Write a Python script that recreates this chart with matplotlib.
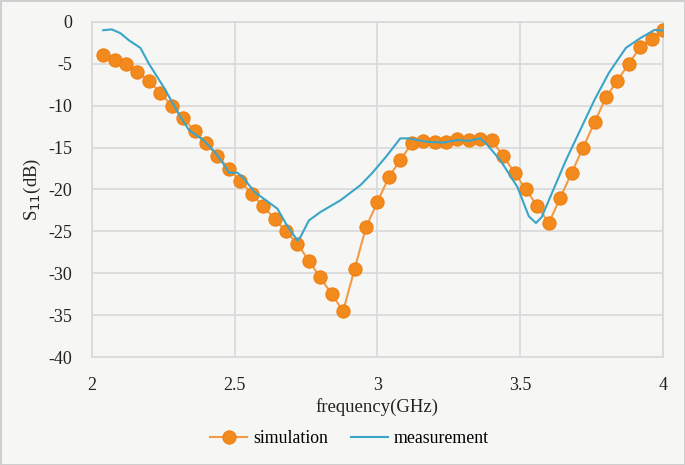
import matplotlib
matplotlib.use("Agg")
import matplotlib.pyplot as plt
import numpy as np

sim_freq = [round(2.04 + 0.04 * i, 2) for i in range(50)]
sim_s11 = [-4, -4.5, -5, -6, -7, -8.5, -10, -11.5, -13, -14.5,
           -16, -17.5, -19, -20.5, -22, -23.5, -25, -26.5, -28.5, -30.5,
           -32.5, -34.5, -29.5, -24.5, -21.5, -18.5, -16.5, -14.5, -14.2, -14.3,
           -14.3, -14, -14.1, -14, -14.1, -16, -18, -20, -22, -24,
           -21, -18, -15, -12, -9, -7, -5, -3, -2, -1]

meas_freq = [2.04, 2.07, 2.10, 2.13, 2.17, 2.20, 2.25, 2.29, 2.31, 2.34,
             2.39, 2.43, 2.46, 2.48, 2.51, 2.53, 2.57, 2.61, 2.65, 2.68,
             2.72, 2.73, 2.76, 2.80, 2.87, 2.94, 2.98, 3.03, 3.08, 3.11,
             3.17, 3.23, 3.28, 3.32, 3.36, 3.38, 3.43, 3.49, 3.53, 3.555,
             3.575, 3.61, 3.66, 3.76, 3.81, 3.87, 3.92, 3.97, 4.00]
meas_s11 = [-1.0, -0.9, -1.35, -2.2, -3.1, -5.0, -7.7, -10.1, -11.3, -12.9,
            -14.1, -15.5, -16.9, -18.0, -18.0, -18.6, -20.3, -21.3, -22.3, -24.1,
            -26.1, -25.7, -23.7, -22.7, -21.3, -19.5, -18.1, -16.1, -13.9, -13.9,
            -14.3, -14.4, -14.1, -14.2, -13.9, -14.5, -16.5, -19.7, -23.2, -24.0,
            -23.3, -20.5, -16.5, -9.3, -6.1, -3.1, -1.95, -0.96, -1.04]

x_ticks = [2, 2.5, 3, 3.5, 4]
x_tick_labels = ["2", "2.5", "3", "3.5", "4"]
y_ticks = [0, -5, -10, -15, -20, -25, -30, -35, -40]

plt.rcParams['font.family'] = ['Liberation Serif', 'DejaVu Serif']
plt.rcParams['axes.unicode_minus'] = False

bg = '#f6f6f4'
fig = plt.figure(figsize=(6.85, 4.65), dpi=100, facecolor=bg,
                 edgecolor='#cfcfcf', linewidth=2)
ax = fig.add_axes([0.134, 0.232, 0.834, 0.721])
ax.set_facecolor(bg)

ax.plot(sim_freq, sim_s11, color='#f39a45', linewidth=1.5, marker='o',
        markersize=9.5, markerfacecolor='#f28a1e', markeredgecolor='#f07f10',
        markeredgewidth=0.8, label='simulation', zorder=3)
ax.plot(meas_freq, meas_s11, color='#3aa5c8', linewidth=1.5,
        label='measurement', zorder=4)

ax.set_xlim(2, 4)
ax.set_ylim(-40, 0)
ax.set_xticks(x_ticks)
ax.set_xticklabels(x_tick_labels)
ax.set_yticks(y_ticks)
ax.grid(True, color='#d9d9d9', linewidth=1.2)
ax.set_axisbelow(True)
for s in ax.spines.values():
    s.set_color('#d9d9d9')
    s.set_linewidth(1.2)
ax.tick_params(length=0, labelsize=13, colors='#222222', pad=14)

ax.set_xlabel('frequency(GHz)', fontsize=13.5, color='#222222', labelpad=3)
ax.set_ylabel('S$_{11}$(dB)', fontsize=13.5, color='#222222', labelpad=4)

fig.legend(loc='center', bbox_to_anchor=(0.51, 0.056), ncol=2,
           frameon=False, fontsize=12.8, handlelength=2.1, columnspacing=1.3,
           handletextpad=0.3)

fig.savefig('out.png', dpi=100, facecolor=bg, edgecolor='#cfcfcf')
